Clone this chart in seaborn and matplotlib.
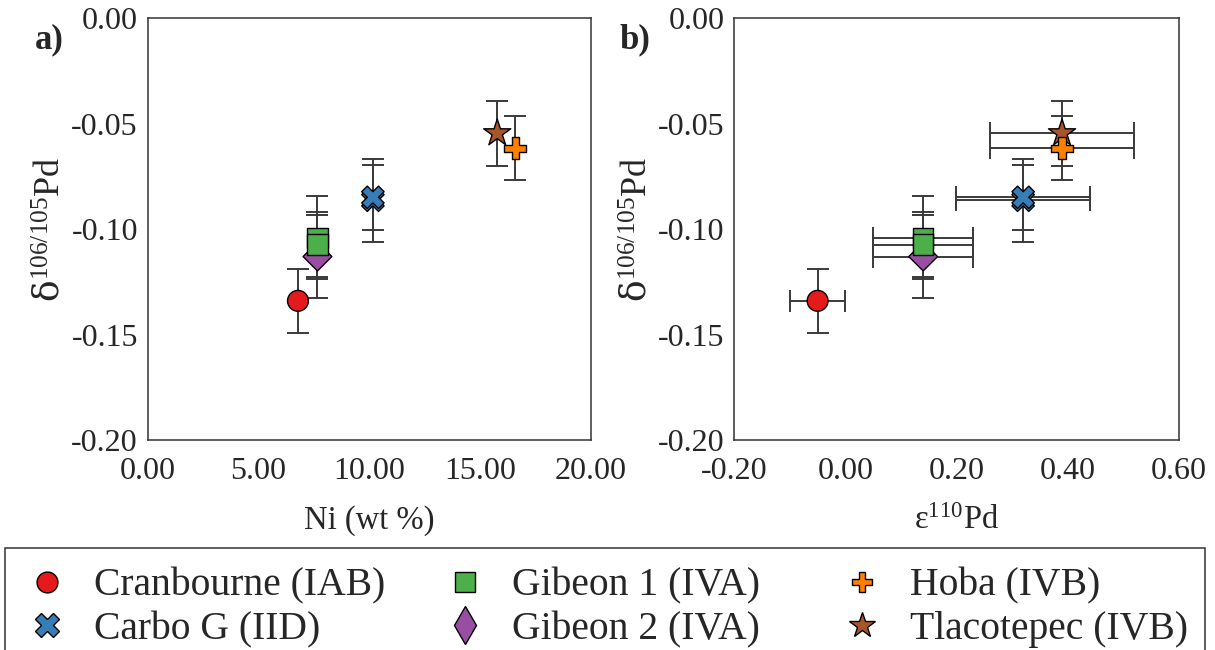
import matplotlib
matplotlib.use("Agg")
import matplotlib.pyplot as plt
import numpy as np
import pandas as pd
import seaborn as sns
from matplotlib.lines import Line2D
from matplotlib.patches import Rectangle

# ---------------- data ----------------
samples = ["Cranbourne (IAB)", "Carbo G (IID)", "Carbo G (IID)", "Gibeon 2 (IVA)",
           "Gibeon 1 (IVA)", "Gibeon 1 (IVA)", "Tlacotepec (IVB)", "Hoba (IVB)"]
ni_wt = [6.78, 10.16, 10.16, 7.66, 7.66, 7.66, 15.77, 16.59]
d_pd = [-0.134, -0.0863, -0.0849, -0.1130, -0.1041, -0.1073, -0.0545, -0.0616]
d_pd_err = [0.0153, 0.0196, 0.0154, 0.0195, 0.0196, 0.0153, 0.0155, 0.0153]
eps_pd = [-0.05, 0.32, 0.32, 0.14, 0.14, 0.14, 0.39, 0.39]
eps_pd_err = [0.05, 0.12, 0.12, 0.09, 0.09, 0.09, 0.13, 0.13]

legend_order = ["Cranbourne (IAB)", "Carbo G (IID)", "Gibeon 1 (IVA)",
                "Gibeon 2 (IVA)", "Hoba (IVB)", "Tlacotepec (IVB)"]
colors = ["#e41a1c", "#377eb8", "#4daf4a", "#984ea3", "#ff7f00", "#a65628"]
marker_list = ["o", "X", "s", "D", "P", "*"]
legend_marker_list = ["o", "X", "s", "d", "P", "*"]
size_list = [225, 260, 215, 215, 250, 420]
legend_msize = [15, 17, 14, 19, 15, 19]

xticks_a = [0.0, 5.0, 10.0, 15.0, 20.0]
xticks_b = [-0.2, 0.0, 0.2, 0.4, 0.6]
yticks = [0.0, -0.05, -0.10, -0.15, -0.20]

palette = dict(zip(legend_order, colors))
markers = dict(zip(legend_order, marker_list))
sizes = dict(zip(legend_order, size_list))

df = pd.DataFrame({"sample": samples, "ni": ni_wt, "d": d_pd, "d_err": d_pd_err,
                   "eps": eps_pd, "eps_err": eps_pd_err})

# ---------------- style ----------------
sns.set_theme(style="white")
plt.rcParams["font.family"] = ["Liberation Serif", "DejaVu Serif"]
plt.rcParams["mathtext.fontset"] = "custom"
plt.rcParams["mathtext.rm"] = "Liberation Serif"
plt.rcParams["mathtext.it"] = "Liberation Serif:italic"
plt.rcParams["mathtext.sf"] = "DejaVu Serif"
plt.rcParams["axes.unicode_minus"] = False

fig = plt.figure(figsize=(12.15, 6.5), dpi=100)
axa = fig.add_axes([147.7 / 1215, 1 - 440 / 650, (591 - 147.7) / 1215, (440 - 18.3) / 650])
axb = fig.add_axes([734.3 / 1215, 1 - 440 / 650, (1178.7 - 734.3) / 1215, (440 - 18.3) / 650])

ecol = "#3a3a3a"
for ax, xcol, xerr_col, xt, xlim, xlabel in [
        (axa, "ni", None, xticks_a, (0, 20), "Ni (wt %)"),
        (axb, "eps", "eps_err", xticks_b, (-0.2, 0.6), "ε$^{110}$Pd")]:
    ax.errorbar(df[xcol], df["d"], yerr=df["d_err"],
                xerr=None if xerr_col is None else df[xerr_col],
                fmt="none", ecolor=ecol, elinewidth=1.4, capsize=8, capthick=1.4, zorder=1)
    sns.scatterplot(data=df, x=xcol, y="d", hue="sample", style="sample", size="sample",
                    hue_order=legend_order, style_order=legend_order, size_order=legend_order,
                    palette=palette, markers=markers, sizes=sizes,
                    edgecolor="black", linewidth=1.0, legend=False, ax=ax, zorder=3)
    ax.set_xlim(*xlim)
    ax.set_ylim(-0.2, 0.0)
    ax.set_xticks(xt)
    ax.set_xticklabels([f"{v:.2f}" for v in xt])
    ax.set_yticks(yticks)
    ax.set_yticklabels([f"{v:.2f}" for v in yticks])
    ax.tick_params(axis="x", direction="in", length=6, width=1, color="#333333",
                   labelsize=23, pad=12)
    ax.tick_params(axis="y", direction="in", length=0, labelsize=23, pad=7)
    ax.set_xlabel(xlabel, fontsize=23.5, labelpad=14)
    ax.set_ylabel(r"$\mathsf{δ}^{106/105}\mathrm{Pd}$", fontsize=26, labelpad=2)
    for sp in ax.spines.values():
        sp.set_visible(True)
        sp.set_color("#333333")
        sp.set_linewidth(1.1)

fig.text(35 / 1215, 1 - 40 / 650, "a)", fontsize=25, fontweight="bold", va="center")
fig.text(620 / 1215, 1 - 40 / 650, "b)", fontsize=25, fontweight="bold", va="center")

# legend: three columns placed individually, with one shared frame
leg_fs = 28.5
fs_px = leg_fs * 100 / 72
col_marker_x = [47, 465, 862]
top_px = 548
handles = [Line2D([], [], linestyle="none", marker=m, markersize=ms,
                  markerfacecolor=palette[s], markeredgecolor="black", markeredgewidth=1.0)
           for s, m, ms in zip(legend_order, legend_marker_list, legend_msize)]
for c, mx in enumerate(col_marker_x):
    anchor_x = (mx - 0.5 * fs_px - 0.5 * fs_px) / 1215
    lg = fig.legend(handles[2 * c:2 * c + 2], legend_order[2 * c:2 * c + 2], ncol=1,
                    loc="upper left", bbox_to_anchor=(anchor_x, 1 - top_px / 650),
                    fontsize=leg_fs, frameon=False, handlelength=1.0, handletextpad=0.7,
                    labelspacing=0.15, borderpad=0.5, borderaxespad=0)
fig.patches.append(Rectangle((5 / 1215, -0.1), 1200 / 1215, (1 - top_px / 650) + 0.1,
                             transform=fig.transFigure, fill=False,
                             edgecolor="#333333", linewidth=1.1))

fig.savefig("out.png", dpi=100)
